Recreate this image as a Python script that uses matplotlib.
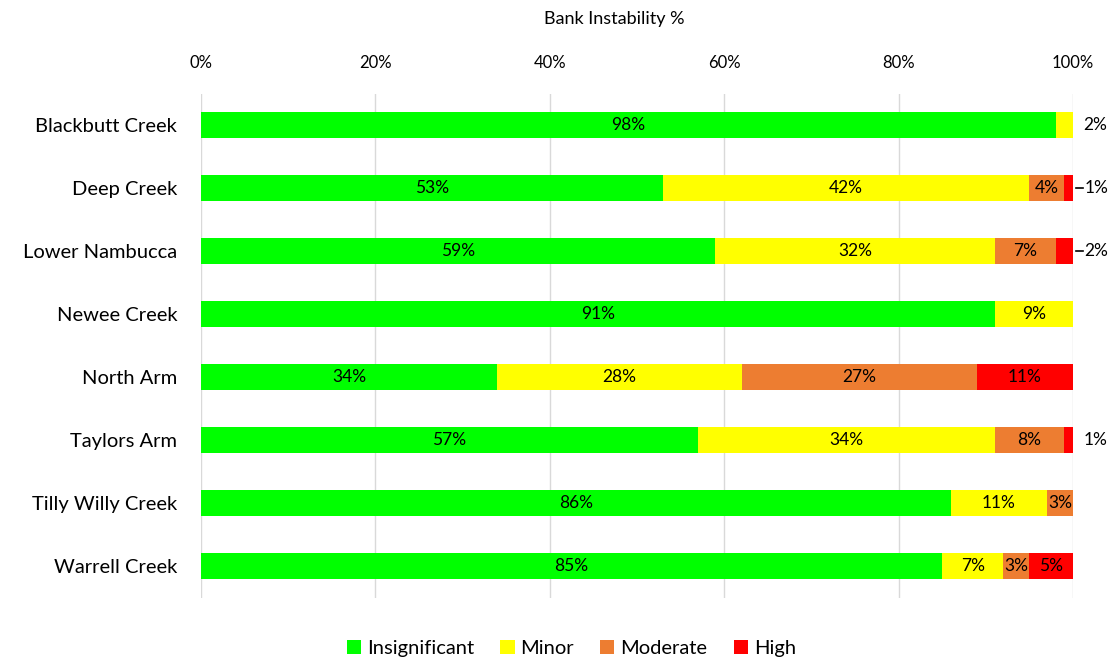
import numpy as np
import matplotlib.pyplot as plt
from matplotlib.patches import Patch

plt.rcParams['font.family'] = ['Lato', 'DejaVu Sans']

creeks = ['Blackbutt Creek', 'Deep Creek', 'Lower Nambucca', 'Newee Creek',
          'North Arm', 'Taylors Arm', 'Tilly Willy Creek', 'Warrell Creek']
insignificant = [98, 53, 59, 91, 34, 57, 86, 85]
minor = [2, 42, 32, 9, 28, 34, 11, 7]
moderate = [0, 4, 7, 0, 27, 8, 3, 3]
high = [0, 1, 2, 0, 11, 1, 0, 5]

series = ['Insignificant', 'Minor', 'Moderate', 'High']
colors = ['#00FF00', '#FFFF00', '#ED7D31', '#FF0000']
leader_rows = ['Deep Creek', 'Lower Nambucca']

fig = plt.figure(figsize=(11.14, 6.64), dpi=100)
ax = fig.add_axes([0.1804, 0.1001, 0.7828, 0.7590])

y = np.arange(len(creeks))
left = np.zeros(len(creeks))
for name, vals, col in zip(series, [insignificant, minor, moderate, high], colors):
    vals = np.array(vals, dtype=float)
    ax.barh(y, vals, left=left, height=0.4, color=col, label=name, zorder=2)
    for i, v in enumerate(vals):
        if v <= 0:
            continue
        if v <= 2:
            if creeks[i] in leader_rows:
                ax.plot([100.3, 101.2], [i, i], color='black', lw=1.2,
                        clip_on=False, zorder=3)
                ax.text(101.3, i, f'{v:.0f}%', va='center', ha='left',
                        fontsize=12.5, clip_on=False)
            else:
                ax.text(101.2, i, f'{v:.0f}%', va='center', ha='left',
                        fontsize=12.5, clip_on=False)
        else:
            ax.text(left[i] + v / 2, i, f'{v:.0f}%', va='center', ha='center',
                    fontsize=12.5, zorder=4)
    left += vals

ax.set_xlim(0, 100)
ax.set_ylim(len(creeks) - 0.5, -0.5)
ax.set_yticks(y)
ax.set_yticklabels(creeks, fontsize=14.5)
ax.set_xticks(np.arange(0, 101, 20))
ax.set_xticklabels([f'{t}%' for t in range(0, 101, 20)], fontsize=12)
ax.xaxis.tick_top()
ax.tick_params(axis='x', length=0, pad=16)
ax.tick_params(axis='y', length=0, pad=17)
ax.grid(axis='x', color='#D9D9D9', lw=1, zorder=0)
for s in ax.spines.values():
    s.set_visible(False)

fig.text(0.551, 0.972, 'Bank Instability %', ha='center', va='center', fontsize=13)

handles = [Patch(facecolor=c, label=s) for s, c in zip(series, colors)]
fig.legend(handles=handles, loc='center', bbox_to_anchor=(0.513, 0.024), ncol=4,
           frameon=False, fontsize=14.5, handlelength=0.7, handleheight=0.7,
           handletextpad=0.3, columnspacing=1.3)

fig.savefig('out.png', dpi=100)
